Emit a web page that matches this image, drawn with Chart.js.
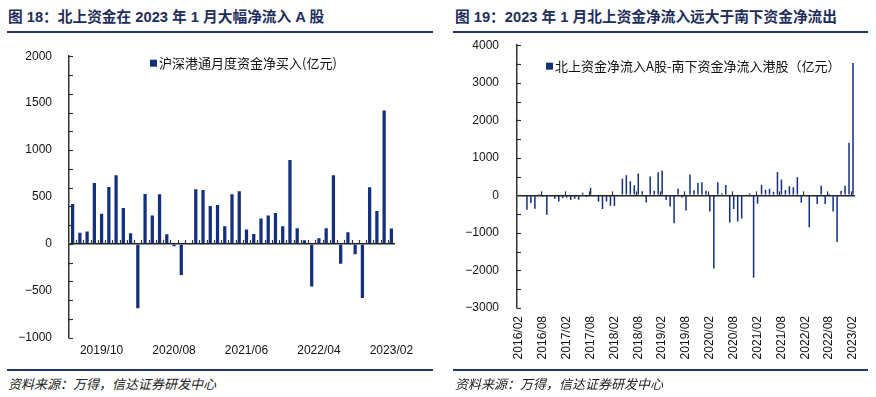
<!DOCTYPE html>
<html lang="zh-CN">
<head>
<meta charset="utf-8">
<title>北上资金净流入</title>
<script src="https://cdn.jsdelivr.net/npm/chart.js@4.4.1/dist/chart.umd.min.js"></script>
<style>
  html, body { margin: 0; padding: 0; background: #fff; }
  body { width: 876px; height: 397px; position: relative; overflow: hidden;
         font-family: "Liberation Sans", "Noto Sans CJK SC", sans-serif; }
  .title { position: absolute; top: 5px; font-size: 14.7px; font-weight: bold; color: #1f2d5c; white-space: nowrap; }
  .rule { position: absolute; height: 2px; background: #1f3864; }
  .source { position: absolute; top: 374px; font-size: 13px; font-style: italic; color: #222;
            font-family: "Noto Sans CJK SC", sans-serif; white-space: nowrap; }
  canvas { position: absolute; }
</style>
</head>
<body>

<div class="title" style="left:8px">图 18：北上资金在 2023 年 1 月大幅净流入 A 股</div>
<div class="rule" style="left:7px; width:426px; top:31px"></div>
<div class="title" style="left:455px">图 19：2023 年 1 月北上资金净流入远大于南下资金净流出</div>
<div class="rule" style="left:453px; width:415px; top:31px"></div>

<canvas id="northChart" width="440" height="330" style="left:0; top:32px"></canvas>
<canvas id="gapChart" width="436" height="352" style="left:440px; top:20px"></canvas>

<div class="rule" style="left:7px; width:426px; top:369px"></div>
<div class="rule" style="left:453px; width:415px; top:369px"></div>
<div class="source" style="left:8px">资料来源：万得，信达证券研发中心</div>
<div class="source" style="left:455px">资料来源：万得，信达证券研发中心</div>

<script>
/**
 * DATA
 */
// 图18: 沪深港通月度资金净买入, 2019/06 - 2023/02 (亿元)
const northMonths = monthRange(2019, 6, 2023, 2);
const northNetBuy = [
    425, 118, 132, 650, 321, 607, 732,          // 2019/06 - 2019/12
    382, 114, -686, 532, 304, 529, 104, -25, -332, 5, 582, 575,   // 2020
    404, 414, 189, 529, 561, 154, 107, 271, 304, 329, 189, 893,   // 2021
    168, 39, -454, 61, 168, 732, -211, 125, -111, -575, 604, 350, // 2022
    1421, 164                                   // 2023/01 - 2023/02
];
const northTickLabels = ['2019/10', '2020/08', '2021/06', '2022/04', '2023/02'];

// 图19: 北上资金净流入A股 - 南下资金净流入港股, 2016/02 - 2023/02 (亿元)
const gapMonths = monthRange(2016, 2, 2023, 2);
const gapNetFlow = [
    0, 0, -384, -205, -357, 10, -35, -518, 0, -89, -160,          // 2016/02 - 2016/12
    -71, -54, -125, -89, -116, 71, -36, 196, 0, -170, -366, -160, // 2017
    -277, -286, 0, 446, 536, 375, 268, 580, 107, -187, 500, 125,  // 2018
    616, 660, -125, -295, -741, 178, -54, -402, 554, 134, 330, 348, // 2019
    125, -429, -1946, 348, 54, 277, -723, -366, -696, -616, 0, 54,  // 2020
    -2196, -223, 286, 152, 178, 98, 625, 420, 143, 241, 214, 482,   // 2021
    -196, 0, -848, -10, -232, 259, -232, 45, -429, -1241, 125, 259, // 2022
    1402, 3528                                                      // 2023/01 - 2023/02
];
const gapTickLabels = ['2016/02', '2016/08', '2017/02', '2017/08', '2018/02', '2018/08',
    '2019/02', '2019/08', '2020/02', '2020/08', '2021/02', '2021/08', '2022/02', '2022/08', '2023/02'];

const BAR_BLUE = '#13307f';

function monthRange(y0, m0, y1, m1) {
    const out = [];
    for (let y = y0, m = m0; y < y1 || (y === y1 && m <= m1); m++) {
        if (m > 12) { m = 1; y++; if (y > y1) break; }
        out.push(y + '/' + String(m).padStart(2, '0'));
    }
    return out;
}

const minusFmt = v => v < 0 ? '\u2212' + Math.abs(v) : String(v);

Chart.defaults.font.family = '"Liberation Sans", "Noto Sans CJK SC", sans-serif';
Chart.defaults.font.size = 12;
Chart.defaults.color = '#111';

/**
 * PLUGINS: inner tick marks + simple box legend
 */
const innerTicks = {
    id: 'innerTicks',
    afterDatasetsDraw(chart, args, opts) {
        const { ctx, chartArea, scales: { x, y } } = chart;
        ctx.save();
        ctx.strokeStyle = '#333';
        ctx.lineWidth = 1.2;
        // minor marks on the value axis, pointing into the plot
        for (let v = y.min; v <= y.max; v += opts.yMinor) {
            const py = Math.round(y.getPixelForValue(v)) + 0.5;
            ctx.beginPath();
            ctx.moveTo(chartArea.left, py);
            ctx.lineTo(chartArea.left + 4, py);
            ctx.stroke();
        }
        // category marks sitting on the zero line
        const zero = y.getPixelForValue(0);
        const half = (x.getPixelForValue(1) - x.getPixelForValue(0)) / 2;
        for (let i = opts.xStart; i < chart.data.labels.length; i += opts.xEvery) {
            const px = Math.round(x.getPixelForValue(i) - half) + 0.5;
            ctx.beginPath();
            ctx.moveTo(px, zero);
            ctx.lineTo(px, zero - 4);
            ctx.stroke();
        }
        ctx.restore();
    }
};

const boxLegend = {
    id: 'boxLegend',
    afterDraw(chart, args, opts) {
        const { ctx, chartArea } = chart;
        const ds = chart.data.datasets[0];
        const x0 = chartArea.left + opts.dx;
        const y0 = chartArea.top + opts.dy;
        ctx.save();
        ctx.fillStyle = ds.backgroundColor;
        ctx.fillRect(x0, y0 - 3.5, 7, 7);
        ctx.font = '13px "Noto Sans CJK SC", sans-serif';
        ctx.fillStyle = '#111';
        ctx.textBaseline = 'middle';
        ctx.fillText(ds.label, x0 + 9, y0);
        ctx.restore();
    }
};

function barOptions(cfg) {
    return {
        responsive: false,
        animation: false,
        layout: { padding: { top: cfg.padTop, right: cfg.padRight, left: 0, bottom: 0 } },
        plugins: {
            legend: { display: false },
            tooltip: { enabled: false },
            innerTicks: cfg.ticks,
            boxLegend: cfg.legend
        },
        scales: {
            x: {
                grid: { display: false, drawTicks: false },
                border: { display: false },
                afterFit: s => { s.height = cfg.xHeight; },
                ticks: {
                    autoSkip: false,
                    padding: cfg.xPad,
                    minRotation: cfg.rotation,
                    maxRotation: cfg.rotation,
                    color: '#111',
                    callback: function (value) {
                        const lbl = this.getLabelForValue(value);
                        return cfg.tickLabels.includes(lbl) ? lbl : '';
                    }
                }
            },
            y: {
                min: cfg.min,
                max: cfg.max,
                afterFit: s => { s.width = cfg.yWidth; },
                border: { display: true, color: '#333', width: 1.5 },
                grid: {
                    drawTicks: false,
                    lineWidth: 1.5,
                    color: c => c.tick && c.tick.value === 0 ? '#222' : 'rgba(0,0,0,0)'
                },
                ticks: { stepSize: cfg.step, padding: cfg.yPad, color: '#111', callback: minusFmt }
            }
        }
    };
}

/**
 * CHART 18: 沪深港通月度资金净买入
 */
new Chart(document.getElementById('northChart'), {
    type: 'bar',
    data: {
        labels: northMonths,
        datasets: [{
            label: '沪深港通月度资金净买入(亿元)',
            data: northNetBuy,
            backgroundColor: BAR_BLUE,
            barPercentage: 0.45,
            categoryPercentage: 1
        }]
    },
    options: barOptions({
        padTop: 15, padRight: 45, xHeight: 24, yWidth: 69, xPad: 6, yPad: 17,
        rotation: 0, min: -1000, max: 2000, step: 500, tickLabels: northTickLabels,
        ticks: { yMinor: 200, xStart: 1, xEvery: 1 },
        legend: { dx: 81, dy: 7 }
    }),
    plugins: [innerTicks, boxLegend]
});

/**
 * CHART 19: 北上 - 南下 净流入差额
 */
new Chart(document.getElementById('gapChart'), {
    type: 'bar',
    data: {
        labels: gapMonths,
        datasets: [{
            label: '北上资金净流入A股-南下资金净流入港股（亿元）',
            data: gapNetFlow,
            backgroundColor: BAR_BLUE,
            barPercentage: 0.38,
            categoryPercentage: 1
        }]
    },
    options: barOptions({
        padTop: 15, padRight: 21, xHeight: 64, yWidth: 77, xPad: 8, yPad: 18,
        rotation: 90, min: -3000, max: 4000, step: 1000, tickLabels: gapTickLabels,
        ticks: { yMinor: 500, xStart: 6, xEvery: 6 },
        legend: { dx: 29, dy: 21 }
    }),
    plugins: [innerTicks, boxLegend]
});
</script>
</body>
</html>
